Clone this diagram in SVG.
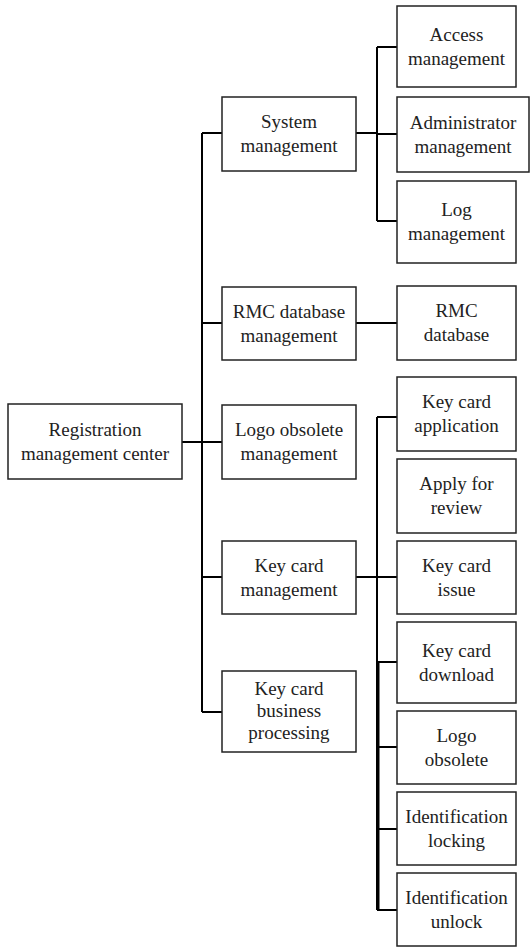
<svg xmlns="http://www.w3.org/2000/svg" width="531" height="947" viewBox="0 0 531 947">
<style>
.box{fill:#fff;stroke:#222;stroke-width:1.5}
.t{font-family:"Liberation Serif","Times New Roman",serif;font-size:19px;fill:#222;text-anchor:middle}
.c{stroke:#000;stroke-width:2;fill:none}
</style>
<rect width="531" height="947" fill="#fff"/>
<g id="connectors">
<path class="c" d="M182,442H202M202,133V712M202,133H222M202,323H222M202,442H222M202,577H222M202,712H222"/>
<path class="c" d="M356,133H377M377,47V221M377,47H397M377,134H397M377,221H397"/>
<path class="c" d="M356,323H397"/>
<path class="c" d="M356,577H397M377,417V910M377,417H397M377,662H397M377,747H397M377,829H397M377,910H397"/>
<path class="c" d="M378.5,662V910"/>
</g>
<g id="root"><rect class="box" x="8" y="404" width="174" height="75"/><text class="t" x="95" y="436">Registration</text><text class="t" x="95" y="460">management center</text></g>
<g id="system"><rect class="box" x="222" y="97" width="134" height="74"/><text class="t" x="289" y="128">System</text><text class="t" x="289" y="152">management</text></g>
<g id="rmcdbm"><rect class="box" x="222" y="287" width="134" height="73"/><text class="t" x="289" y="318">RMC database</text><text class="t" x="289" y="342">management</text></g>
<g id="logoobsm"><rect class="box" x="222" y="405" width="134" height="74"/><text class="t" x="289" y="436">Logo obsolete</text><text class="t" x="289" y="460">management</text></g>
<g id="keycardm"><rect class="box" x="222" y="541" width="134" height="73"/><text class="t" x="289" y="572">Key card</text><text class="t" x="289" y="596">management</text></g>
<g id="keycardbp"><rect class="box" x="222" y="671" width="134" height="81"/><text class="t" x="289" y="695">Key card</text><text class="t" x="289" y="717">business</text><text class="t" x="289" y="739">processing</text></g>
<g id="access"><rect class="box" x="397" y="6" width="119" height="81"/><text class="t" x="456.5" y="41">Access</text><text class="t" x="456.5" y="65">management</text></g>
<g id="admin"><rect class="box" x="397" y="97" width="132" height="75"/><text class="t" x="463" y="129">Administrator</text><text class="t" x="463" y="153">management</text></g>
<g id="log"><rect class="box" x="397" y="181" width="119" height="82"/><text class="t" x="456.5" y="216">Log</text><text class="t" x="456.5" y="240">management</text></g>
<g id="rmcdb"><rect class="box" x="397" y="286" width="119" height="74"/><text class="t" x="456.5" y="317">RMC</text><text class="t" x="456.5" y="341">database</text></g>
<g id="kcapp"><rect class="box" x="397" y="377" width="119" height="74"/><text class="t" x="456.5" y="408">Key card</text><text class="t" x="456.5" y="432">application</text></g>
<g id="review"><rect class="box" x="397" y="459" width="119" height="74"/><text class="t" x="456.5" y="490">Apply for</text><text class="t" x="456.5" y="514">review</text></g>
<g id="kcissue"><rect class="box" x="397" y="541" width="119" height="73"/><text class="t" x="456.5" y="572">Key card</text><text class="t" x="456.5" y="596">issue</text></g>
<g id="kcdownload"><rect class="box" x="397" y="622" width="119" height="81"/><text class="t" x="456.5" y="657">Key card</text><text class="t" x="456.5" y="681">download</text></g>
<g id="logoobs"><rect class="box" x="397" y="711" width="119" height="73"/><text class="t" x="456.5" y="742">Logo</text><text class="t" x="456.5" y="766">obsolete</text></g>
<g id="idlock"><rect class="box" x="397" y="792" width="119" height="73"/><text class="t" x="456.5" y="823">Identification</text><text class="t" x="456.5" y="847">locking</text></g>
<g id="idunlock"><rect class="box" x="397" y="873" width="119" height="73"/><text class="t" x="456.5" y="904">Identification</text><text class="t" x="456.5" y="928">unlock</text></g>
</svg>
